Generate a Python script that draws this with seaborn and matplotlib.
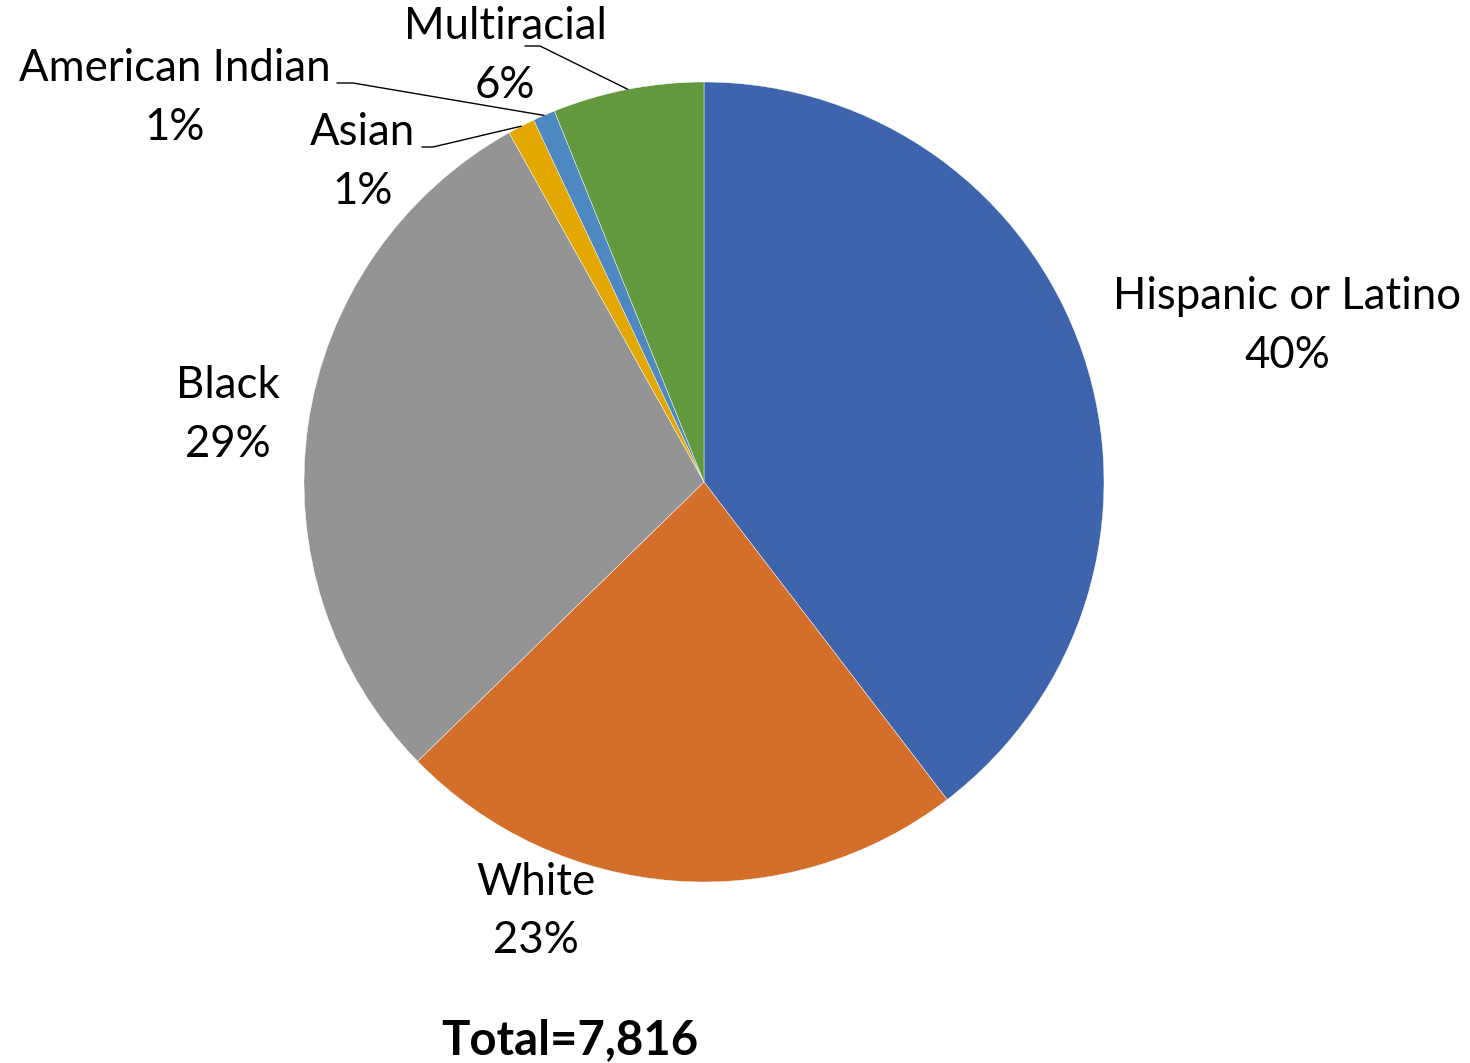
import numpy as np
import matplotlib
matplotlib.use("Agg")
import matplotlib.pyplot as plt
import seaborn as sns

# shares, clockwise from 12 o'clock
groups = ["Hispanic or Latino", "White", "Black", "Asian",
          "American Indian", "Multiracial"]
shares = [39.6, 23.1, 29.2, 1.1, 0.9, 6.1]
pct_labels = ["40%", "23%", "29%", "1%", "1%", "6%"]
total_text = "Total=7,816"

colors = ["#3D64AC", "#D36F2B", "#949494", "#E2A800", "#4E88C0", "#63993E"]

sns.set_theme(style="white")
plt.rcParams['font.family'] = ['Lato', 'DejaVu Sans']

fig = plt.figure(figsize=(14.7, 10.63), dpi=100)
# pie of radius 1 sits in a square box of 800x800 px centred at (704, 482)
ax = fig.add_axes([304 / 1470, 181 / 1063, 800 / 1470, 800 / 1063])
wedges, _ = ax.pie(shares, colors=colors, startangle=90, counterclock=False,
                   radius=1, wedgeprops=dict(linewidth=0.3, edgecolor="white"))
ax.set_xlim(-1, 1)
ax.set_ylim(-1, 1)
ax.set_aspect("equal")
ax.axis("off")

# label block centres (data units, radius = 1)
label_pos = {
    "Hispanic or Latino": (1.4575, 0.39),
    "White": (-0.42, -1.073),
    "Black": (-1.19, 0.1675),
    "Asian": (-0.8525, 0.80),
    "American Indian": (-1.3225, 0.96),
    "Multiracial": (-0.4975, 1.065),
}
# start of the leader lines next to the small labels
leaders = {
    "Asian": (-0.705, -0.6775, 0.8375),
    "American Indian": (-0.9175, -0.8775, 0.9975),
    "Multiracial": (-0.4475, -0.41, 1.09),
}

cum = np.cumsum([0] + shares)
for i, name in enumerate(groups):
    x, y = label_pos[name]
    ax.text(x, y, f"{name}\n{pct_labels[i]}", ha="center", va="center",
            fontsize=31.5, linespacing=1.52, color="black", clip_on=False)
    if name in leaders:
        mid = (cum[i] + cum[i + 1]) / 2 / 100 * 2 * np.pi
        ex, ey = np.sin(mid), np.cos(mid)
        x0, x1, ly = leaders[name]
        ax.plot([x0, x1, ex], [ly, ly, ey], color="black", lw=1.0,
                clip_on=False)

fig.text(570 / 1470, 1 - 1040 / 1063, total_text, ha="center", va="center",
         fontsize=34, fontweight="bold", color="black")

fig.savefig("out.png", dpi=100)
